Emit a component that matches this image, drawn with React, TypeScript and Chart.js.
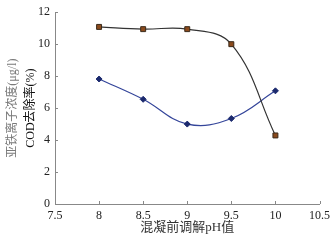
import React, { useEffect, useRef } from "react";
import { Chart, registerables } from "chart.js";

Chart.register(...registerables);

const phValues = [8, 8.5, 9, 9.5, 10];
const codRemoval = [11.08, 10.94, 10.94, 10.0, 4.29];
const ferrousConc = [7.82, 6.55, 5.0, 5.35, 7.08];
const xTickLabels = ["7.5", "8", "8.5", "9", "9.5", "10", "10.5"];
const yTickLabels = ["0", "2", "4", "6", "8", "10", "12"];
const yTitleLine1 = "亚铁离子浓度(μg/l)";
const yTitleLine2 = "COD去除率(%)";
const xTitle = "混凝前调解pH值";

const FONT = "'Liberation Serif', 'Noto Sans CJK SC', serif";

const customPlugin = {
  id: "custom",
  afterDraw(chart: any) {
    const { ctx, chartArea, scales } = chart;
    const xs = scales.x;
    const ys = scales.y;
    ctx.save();
    ctx.strokeStyle = "#888";
    ctx.lineWidth = 1;
    ctx.beginPath();
    xs.ticks.forEach((t: any) => {
      const px = Math.round(xs.getPixelForValue(t.value)) + 0.5;
      ctx.moveTo(px, chartArea.bottom);
      ctx.lineTo(px, chartArea.bottom - 3);
    });
    ys.ticks.forEach((t: any) => {
      const py = Math.round(ys.getPixelForValue(t.value)) + 0.5;
      ctx.moveTo(chartArea.left, py);
      ctx.lineTo(chartArea.left + 3, py);
    });
    ctx.stroke();

    const cy = (chartArea.top + chartArea.bottom) / 2;
    ctx.textAlign = "center";
    ctx.textBaseline = "middle";
    ctx.font = `12px ${FONT}`;
    ctx.save();
    ctx.translate(13, cy);
    ctx.rotate(-Math.PI / 2);
    ctx.fillStyle = "#7a7a7a";
    ctx.fillText(yTitleLine1, 0, 0);
    ctx.restore();
    ctx.save();
    ctx.translate(31, cy);
    ctx.rotate(-Math.PI / 2);
    ctx.fillStyle = "#111";
    ctx.fillText(yTitleLine2, 0, 0);
    ctx.restore();

    ctx.font = `13px ${FONT}`;
    ctx.fillStyle = "#333";
    ctx.fillText(xTitle, (chartArea.left + chartArea.right) / 2, 228);
    ctx.restore();
  },
};

export default function App() {
  const ref = useRef<HTMLCanvasElement>(null);
  useEffect(() => {
    if (!ref.current) return;
    const chart = new Chart(ref.current, {
      type: "line",
      data: {
        datasets: [
          {
            label: "COD",
            data: phValues.map((x, i) => ({ x, y: codRemoval[i] })),
            borderColor: "#333",
            borderWidth: 1.2,
            pointStyle: "rect",
            pointRadius: 3.5,
            pointBackgroundColor: "#8b4a1c",
            pointBorderColor: "#3a2a1a",
            pointBorderWidth: 1,
            tension: 0.4,
          },
          {
            label: "Fe",
            data: phValues.map((x, i) => ({ x, y: ferrousConc[i] })),
            borderColor: "#34459a",
            borderWidth: 1.2,
            pointStyle: "rectRot",
            pointRadius: 3,
            pointBackgroundColor: "#1c2a6e",
            pointBorderColor: "#1c2a6e",
            pointBorderWidth: 1,
            tension: 0.4,
          },
        ],
      },
      options: {
        animation: false,
        responsive: false,
        maintainAspectRatio: false,
        layout: { padding: { left: 0, right: 12, top: 8, bottom: 0 } },
        plugins: { legend: { display: false }, tooltip: { enabled: false } },
        scales: {
          x: {
            type: "linear",
            min: 7.5,
            max: 10.5,
            ticks: {
              stepSize: 0.5,
              padding: 5,
              color: "#222",
              font: { family: FONT, size: 12 },
              callback: (v: any) => {
                const s = String(Number(v));
                return xTickLabels.includes(s) ? s : "";
              },
            },
            grid: { display: true, drawOnChartArea: false, drawTicks: false },
            border: { display: true, color: "#888", width: 1 },
            afterFit: (s: any) => {
              s.height = 36;
            },
          },
          y: {
            min: 0,
            max: 12,
            ticks: {
              stepSize: 2,
              padding: 5,
              color: "#222",
              font: { family: FONT, size: 12 },
              callback: (v: any) => {
                const s = String(Number(v));
                return yTickLabels.includes(s) ? s : "";
              },
            },
            grid: { display: true, drawOnChartArea: false, drawTicks: false },
            border: { display: true, color: "#888", width: 1 },
            afterFit: (s: any) => {
              s.width = 55;
            },
          },
        },
      },
      plugins: [customPlugin],
    });
    return () => chart.destroy();
  }, []);
  return (
    <div style={{ position: "absolute", left: 0, top: 0, width: 335, height: 240, background: "#fff" }}>
      <canvas ref={ref} width={335} height={240} style={{ width: 335, height: 240 }} />
    </div>
  );
}
